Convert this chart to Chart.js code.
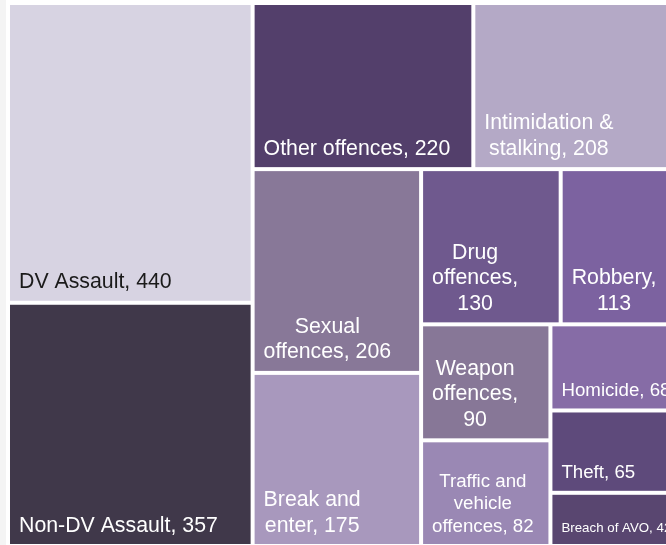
<!DOCTYPE html>
<html>
<head>
<meta charset="utf-8">
<script src="https://cdn.jsdelivr.net/npm/chart.js@4"></script>
<style>
  html, body { margin: 0; padding: 0; width: 666px; height: 545px; overflow: hidden; background: #f4f4f4; }
  #wrap { position: absolute; left: 6px; top: 0; width: 680px; height: 548px; background: #fff; }
</style>
</head>
<body>
<div id="wrap"><canvas id="chart" width="680" height="548"></canvas></div>
<script>
// ─── DATA ───────────────────────────────────────────────────────────
const categories = ['DV Assault', 'Non-DV Assault', 'Other offences', 'Intimidation & stalking',
  'Sexual offences', 'Break and enter', 'Drug offences', 'Robbery', 'Weapon offences',
  'Traffic and vehicle offences', 'Homicide', 'Theft', 'Breach of AVO'];
const counts = [440, 357, 220, 208, 206, 175, 130, 113, 90, 82, 68, 65, 42];

// ─── STYLE ──────────────────────────────────────────────────────────
const colors = ['#d7d3e2', '#40384a', '#533f6b', '#b4a9c6', '#887898', '#a898bd', '#6f598e',
  '#7c62a0', '#877797', '#9a88b4', '#866ca6', '#5e4a7b', '#594670'];
const fontSizes = [21.3, 21.3, 21.3, 21.3, 21.3, 21.3, 21.3, 21.3, 21.3, 18.7, 18.7, 18.7, 13.3];

// plot extent in data units (same proportions as the chart area)
const X_MAX = 674, Y_MAX = 543;
const GAP = 2;

// squarified treemap layout
function worst(row, side) {
  const s = row.reduce((a, b) => a + b, 0);
  let w = 0;
  row.forEach(r => { w = Math.max(w, side * side * r / (s * s), (s * s) / (side * side * r)); });
  return w;
}

function squarify(values, width, height) {
  const total = values.reduce((a, b) => a + b, 0);
  const areas = values.map(v => v * width * height / total);
  const rect = { x: 0, y: 0, w: width, h: height };
  const out = [];
  let row = [];

  const layoutRow = () => {
    const s = row.reduce((a, b) => a + b, 0);
    if (rect.w >= rect.h) {
      const cw = s / rect.h;
      let yy = rect.y;
      row.forEach(a => { out.push({ x: rect.x, y: yy, w: cw, h: a / cw }); yy += a / cw; });
      rect.x += cw; rect.w -= cw;
    } else {
      const ch = s / rect.w;
      let xx = rect.x;
      row.forEach(a => { out.push({ x: xx, y: rect.y, w: a / ch, h: ch }); xx += a / ch; });
      rect.y += ch; rect.h -= ch;
    }
    row = [];
  };

  let i = 0;
  while (i < areas.length) {
    const side = Math.min(rect.w, rect.h);
    if (!row.length || worst([...row, areas[i]], side) <= worst(row, side)) {
      row.push(areas[i]); i++;
    } else {
      layoutRow();
    }
  }
  if (row.length) layoutRow();
  return out;
}

function wrapText(ctx, text, maxW) {
  const words = text.split(' ');
  const lines = [];
  let cur = '';
  words.forEach(w => {
    const test = cur ? cur + ' ' + w : w;
    if (cur && ctx.measureText(test).width > maxW) { lines.push(cur); cur = w; }
    else cur = test;
  });
  if (cur) lines.push(cur);
  return lines;
}

// only the palest cell gets dark text
function isLight(hex) {
  const n = parseInt(hex.slice(1), 16);
  const r = (n >> 16) & 255, g = (n >> 8) & 255, b = n & 255;
  return (0.299 * r + 0.587 * g + 0.114 * b) / 255 > 0.78;
}

const treemapPlugin = {
  id: 'treemap',
  afterDatasetsDraw(chart) {
    const { ctx, scales: { x, y } } = chart;
    const cells = squarify(counts, X_MAX, Y_MAX);
    cells.forEach((c, i) => {
      const left = x.getPixelForValue(c.x) + GAP;
      const right = x.getPixelForValue(c.x + c.w) - GAP;
      const top = y.getPixelForValue(c.y) + GAP;
      const bottom = y.getPixelForValue(c.y + c.h) - GAP;

      ctx.save();
      ctx.fillStyle = colors[i];
      ctx.fillRect(left, top, right - left, bottom - top);

      ctx.beginPath();
      ctx.rect(left, top, right - left, bottom - top);
      ctx.clip();

      const size = fontSizes[i];
      ctx.font = `${size}px "Liberation Sans", Arial, sans-serif`;
      ctx.fillStyle = isLight(colors[i]) ? '#1a1a1a' : '#ffffff';
      ctx.textAlign = 'center';
      ctx.textBaseline = 'alphabetic';

      const lines = wrapText(ctx, `${categories[i]}, ${counts[i]}`, right - left - 12);
      const blockW = Math.max(...lines.map(l => ctx.measureText(l).width));
      const cx = left + 9 + blockW / 2;
      const lh = size * 1.2;
      const lastBase = bottom - 12.5;
      lines.forEach((l, k) => {
        ctx.fillText(l, cx, lastBase - (lines.length - 1 - k) * lh);
      });
      ctx.restore();
    });
  }
};

new Chart(document.getElementById('chart'), {
  type: 'scatter',
  data: { datasets: [{ data: [] }] },
  options: {
    responsive: false,
    animation: false,
    layout: { padding: { left: 2, top: 3, right: 4, bottom: 2 } },
    plugins: { legend: { display: false }, tooltip: { enabled: false } },
    scales: {
      x: { type: 'linear', min: 0, max: X_MAX, display: false },
      y: { type: 'linear', min: 0, max: Y_MAX, reverse: true, display: false }
    }
  },
  plugins: [treemapPlugin]
});
</script>
</body>
</html>
